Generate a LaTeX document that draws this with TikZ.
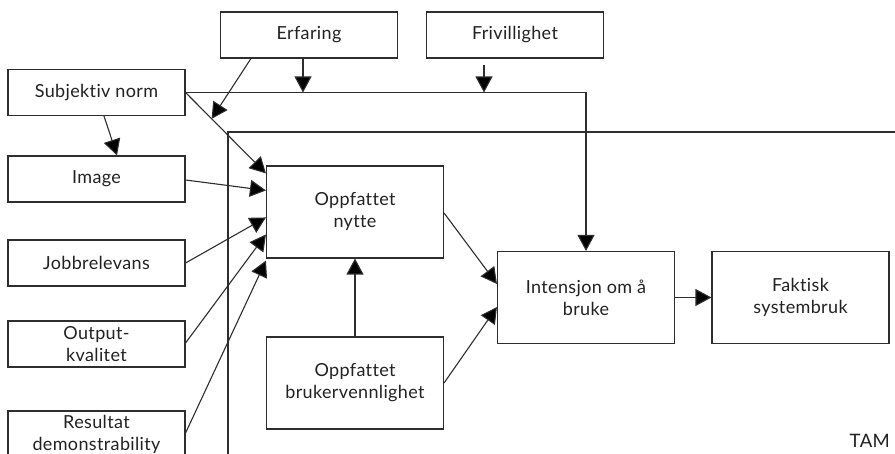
\documentclass[tikz,border=0pt]{standalone}
\usepackage{fontspec}
\setmainfont{Lato}[Ligatures=NoCommon,LetterSpace=2]
\usetikzlibrary{arrows.meta,calc}
\definecolor{ink}{HTML}{2E2E2E}
\definecolor{txt}{HTML}{222222}
\begin{document}
\begin{tikzpicture}[x=1pt,y=-1pt,
  box/.style={draw=ink,line width=1.1pt,rectangle,inner sep=0pt,align=center,
    text=txt,font=\fontsize{18}{22}\selectfont},
  widebox/.style={box,minimum width=177pt,minimum height=46pt},
  tallbox/.style={box,minimum width=177pt,minimum height=92pt},
  arr/.style={draw=ink,line width=1.1pt,-{Triangle[length=16pt,width=17pt,fill=black]}},
  ln/.style={draw=ink,line width=1.1pt}]
\clip (0,0) rectangle (895,454);
\fill[white] (0,0) rectangle (895,454);

% research model frame
\draw[ln] (228,460) |- (900,132);

% boxes
\node[widebox] (erf)  at (309,35)    {Erfaring};
\node[widebox] (friv) at (515,35)    {Frivillighet};
\node[widebox] (subj) at (96.5,92.5) {Subjektiv norm};
\node[widebox] (img)  at (96.5,179)  {Image};
\node[widebox] (job)  at (96.5,263)  {Jobbrelevans};
\node[widebox] (out)  at (96.5,344)  {Output-\\kvalitet};
\node[widebox] (res)  at (96.5,434)  {Resultat\\demonstrability};
\node[tallbox] (nytte) at (355,212)  {Oppfattet\\nytte};
\node[tallbox] (bruk)  at (355,383)  {Oppfattet\\brukervennlighet};
\node[tallbox] (int)   at (586,297.5) {Intensjon om å\\bruke};
\node[tallbox] (fak)   at (800.5,297.5) {Faktisk\\systembruk};

% subjective norm to intention, moderated by experience and voluntariness
\draw[arr] (subj.east) -| (int.north);
\coordinate (e1) at ($(erf.south)+(-6,0)$);
\draw[arr] (e1) -- (e1 |- subj.east);
\coordinate (f1) at ($(friv.south)+(-31,6)$);
\draw[arr] (f1) -- (f1 |- subj.east);

% determinants of perceived usefulness
\path (subj.east) -- ($(nytte.north west)+(0,8)$) coordinate[pos=0.325] (mod);
\draw[arr] (subj.east) -- ($(nytte.north west)+(0,8)$);
\draw[arr] ($(erf.south west)+(31,0)$) -- (mod);
\draw[arr] ($(subj.south)+(7.5,0)$) -- ($(img.north)+(20.5,0)$);
\draw[arr] ($(img.east)+(0,1)$) -- ($(nytte.north west)+(0,25)$);
\draw[arr] (job.east) -- ($(nytte.north west)+(0,52)$);
\draw[arr] ($(out.east)+(0,-1)$) -- ($(nytte.north west)+(0,69)$);
\draw[arr] ($(res.east)+(0,-1)$) -- ($(nytte.south west)+(0,2)$);
\draw[arr] (bruk.north) -- (nytte.south);

% towards intention and use
\draw[arr] ($(nytte.east)+(0,1)$) -- ($(int.west)+(0,-13.5)$);
\draw[arr] (bruk.east) -- ($(int.west)+(0,9.5)$);
\draw[arr] (int.east) -- (fak.west);

\node[anchor=base east,text=txt,font=\fontsize{18.5}{20}\selectfont,inner sep=0pt] (tam) at (890,447) {TAM};
\end{tikzpicture}
\end{document}
